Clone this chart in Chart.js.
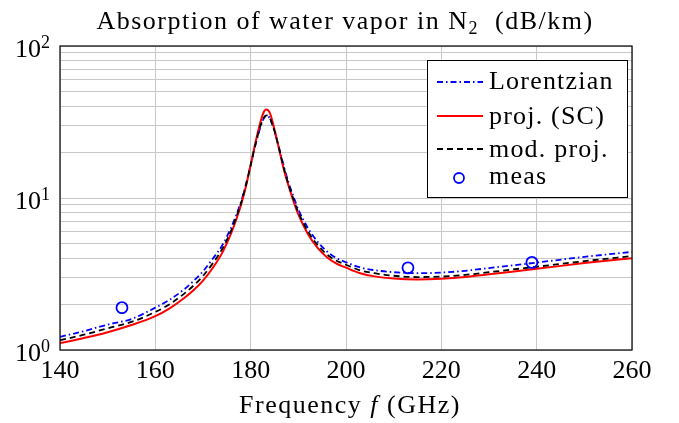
<!DOCTYPE html>
<html>
<head>
<meta charset="utf-8">
<script src="https://cdn.jsdelivr.net/npm/chart.js@4.4.0/dist/chart.umd.min.js"></script>
<style>
  html, body { margin: 0; padding: 0; background: #fff; }
  #wrap { width: 679px; height: 423px; }
</style>
</head>
<body>
<div id="wrap"><canvas id="absChart" width="679" height="423"></canvas></div>
<script>
const freqs = [140, 145, 150, 155, 160, 163, 166, 168, 170, 172, 174, 176, 177, 178, 179, 180, 181, 182, 182.7, 183.3,
    184, 185, 186, 187, 188, 189, 190, 192, 194, 196, 198, 200, 203, 206, 210, 215, 220, 225, 230, 240, 250, 260];

const lorentzian = [1.22, 1.33, 1.47, 1.6, 1.9, 2.14, 2.5, 2.84, 3.29, 3.97, 4.86, 6.5, 7.76, 9.5, 12.3, 16.5, 22.4, 28.9, 33.2, 34.8,
    33.5, 27.4, 21.1, 16.0, 12.5, 10.2, 8.4, 6.35, 5.17, 4.45, 4.02, 3.78, 3.49, 3.35, 3.25, 3.2, 3.23, 3.32, 3.46, 3.76, 4.1, 4.42];

const projSC = [1.11, 1.2, 1.31, 1.46, 1.67, 1.88, 2.19, 2.47, 2.86, 3.45, 4.34, 5.96, 7.25, 9.06, 11.9, 16.5, 23.1, 31.1, 36.5, 38.2,
    36.4, 28.2, 20.7, 15.2, 11.9, 9.5, 7.8, 5.8, 4.72, 4.08, 3.7, 3.48, 3.2, 3.05, 2.95, 2.91, 2.94, 3.02, 3.15, 3.42, 3.73, 4.02];

const modProj = [1.16, 1.26, 1.39, 1.53, 1.78, 2.0, 2.34, 2.65, 3.07, 3.7, 4.6, 6.2, 7.5, 9.3, 12.1, 16.5, 22.5, 29.5, 33.5, 35.0,
    33.6, 27.6, 20.9, 15.6, 12.1, 9.8, 8.05, 6.05, 4.93, 4.25, 3.87, 3.64, 3.34, 3.2, 3.08, 3.02, 3.04, 3.12, 3.25, 3.53, 3.84, 4.15];

const measFreqs = [153, 213, 239];
const measVals = [1.9, 3.47, 3.77];

const xTicks = [140, 160, 180, 200, 220, 240, 260];
const yDecades = [1, 10, 100];

const serif = '"Liberation Serif", "DejaVu Serif", serif';

function toPoints(xs, ys) {
    return xs.map((x, i) => ({ x: x, y: ys[i] }));
}

const legendItems = [
    { label: 'Lorentzian', color: '#0000ff', dash: [6, 3, 1.5, 3], width: 1.8, kind: 'line' },
    { label: 'proj. (SC)', color: '#ff0000', dash: [], width: 2, kind: 'line' },
    { label: 'mod. proj.', color: '#000000', dash: [6, 4], width: 1.8, kind: 'line' },
    { label: 'meas', color: '#0000ff', kind: 'circle' }
];

// draws a row of [text, font] pieces centred on cx
function drawPieces(ctx, pieces, cx, by) {
    let total = 0;
    pieces.forEach(p => { ctx.font = p.font; p.w = ctx.measureText(p.text).width; total += p.w; });
    let x = cx - total / 2;
    ctx.textAlign = 'left';
    pieces.forEach(p => {
        ctx.font = p.font;
        ctx.fillText(p.text, x, by + (p.dy || 0));
        x += p.w;
    });
}

const decorPlugin = {
    id: 'decor',
    afterDraw(chart) {
        const ctx = chart.ctx;
        const area = chart.chartArea;
        const xs = chart.scales.x;
        const ys = chart.scales.y;
        ctx.save();

        // frame
        ctx.strokeStyle = '#000';
        ctx.lineWidth = 1.2;
        ctx.setLineDash([]);
        ctx.strokeRect(area.left, area.top, area.right - area.left, area.bottom - area.top);

        ctx.fillStyle = '#000';
        ctx.textBaseline = 'alphabetic';
        const big = '26px ' + serif;
        const small = '18px ' + serif;

        // title
        ctx.letterSpacing = '1.5px';
        drawPieces(ctx, [
            { text: 'Absorption of water vapor in N', font: big },
            { text: '2', font: small, dy: 5 },
            { text: '  (dB/km)', font: big }
        ], 345, 29);

        // x axis label
        drawPieces(ctx, [
            { text: 'Frequency ', font: big },
            { text: 'f', font: 'italic ' + big },
            { text: ' (GHz)', font: big }
        ], 350, 413);
        ctx.letterSpacing = '0px';

        // x tick labels
        ctx.font = big;
        ctx.textAlign = 'center';
        xTicks.forEach(v => {
            ctx.fillText(String(v), xs.getPixelForValue(v), 378);
        });

        // y tick labels 10^n
        yDecades.forEach(v => {
            const py = ys.getPixelForValue(v);
            const exp = String(Math.round(Math.log10(v)));
            ctx.font = small;
            const we = ctx.measureText(exp).width;
            const ex = area.left - 10 - we;
            ctx.textAlign = 'left';
            ctx.fillText(exp, ex, py + 2);
            ctx.font = big;
            ctx.textAlign = 'right';
            ctx.fillText('10', ex, py + 11);
        });

        // legend box
        const bx = 427, by = 60, bw = 200, bh = 137;
        ctx.fillStyle = '#fff';
        ctx.fillRect(bx, by, bw, bh);
        ctx.strokeStyle = '#000';
        ctx.lineWidth = 1;
        ctx.strokeRect(bx + 0.5, by + 0.5, bw, bh);
        ctx.font = big;
        ctx.letterSpacing = '1.2px';
        ctx.textAlign = 'left';
        const lineRows = [82, 116, 149, 178];
        const textRows = [89, 124, 157, 184];
        legendItems.forEach((it, i) => {
            const ry = lineRows[i];
            ctx.strokeStyle = it.color;
            if (it.kind === 'line') {
                ctx.lineWidth = it.width;
                ctx.setLineDash(it.dash);
                ctx.beginPath();
                ctx.moveTo(437, ry);
                ctx.lineTo(483, ry);
                ctx.stroke();
            } else {
                ctx.lineWidth = 1.8;
                ctx.setLineDash([]);
                ctx.beginPath();
                ctx.arc(459, ry, 5, 0, Math.PI * 2);
                ctx.stroke();
            }
            ctx.setLineDash([]);
            ctx.fillStyle = '#000';
            ctx.fillText(it.label, 489, textRows[i]);
        });
        ctx.letterSpacing = '0px';
        ctx.restore();
    }
};

new Chart(document.getElementById('absChart'), {
    type: 'line',
    data: {
        datasets: [
            {
                label: 'Lorentzian',
                data: toPoints(freqs, lorentzian),
                borderColor: '#0000ff',
                borderWidth: 1.8,
                borderDash: [6, 3, 1.5, 3],
                pointRadius: 0,
                cubicInterpolationMode: 'monotone',
                order: 3
            },
            {
                label: 'proj. (SC)',
                data: toPoints(freqs, projSC),
                borderColor: '#ff0000',
                borderWidth: 2,
                pointRadius: 0,
                cubicInterpolationMode: 'monotone',
                order: 2
            },
            {
                label: 'mod. proj.',
                data: toPoints(freqs, modProj),
                borderColor: '#000000',
                borderWidth: 1.8,
                borderDash: [6, 4],
                pointRadius: 0,
                cubicInterpolationMode: 'monotone',
                order: 1
            },
            {
                label: 'meas',
                data: toPoints(measFreqs, measVals),
                showLine: false,
                borderColor: '#0000ff',
                backgroundColor: 'rgba(0,0,0,0)',
                pointBorderColor: '#0000ff',
                pointBackgroundColor: 'rgba(0,0,0,0)',
                pointBorderWidth: 1.8,
                pointRadius: 5.5,
                order: 0
            }
        ]
    },
    options: {
        responsive: false,
        animation: false,
        layout: { padding: { left: 0, top: 46, right: 47, bottom: 0 } },
        plugins: {
            legend: { display: false },
            title: { display: false },
            tooltip: { enabled: false }
        },
        scales: {
            x: {
                type: 'linear',
                min: 140,
                max: 260,
                afterBuildTicks: (scale) => { scale.ticks = xTicks.map(v => ({ value: v })); },
                afterFit: (scale) => { scale.height = 73; },
                ticks: { display: false },
                grid: { color: '#c8c8c8', lineWidth: 1, drawTicks: false },
                border: { display: false }
            },
            y: {
                type: 'logarithmic',
                min: 1,
                max: 100,
                afterBuildTicks: (scale) => {
                    const t = [];
                    [1, 10].forEach(d => {
                        for (let k = 1; k < 10; k++) t.push({ value: d * k });
                    });
                    t.push({ value: 100 });
                    scale.ticks = t;
                },
                afterFit: (scale) => { scale.width = 60; },
                ticks: { display: false },
                grid: { color: '#c8c8c8', lineWidth: 1, drawTicks: false },
                border: { display: false }
            }
        }
    },
    plugins: [decorPlugin]
});
</script>
</body>
</html>
